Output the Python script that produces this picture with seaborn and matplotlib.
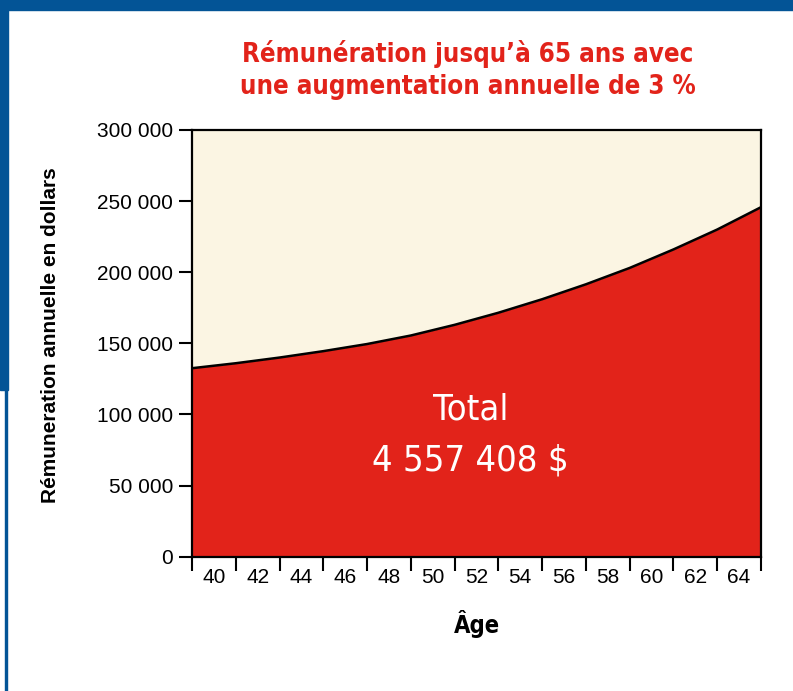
import matplotlib
matplotlib.use("Agg")
import matplotlib.pyplot as plt
from matplotlib.patches import Rectangle
import seaborn as sns

# values (boundary ages every 2 years)
ages = [40, 42, 44, 46, 48, 50, 52, 54, 56, 58, 60, 62, 64, 66]
pay = [132500, 136000, 140000, 144500, 149500, 155500, 163000,
       171500, 181000, 191500, 203000, 216000, 230000, 245700]
age_labels = ['40', '42', '44', '46', '48', '50', '52', '54', '56', '58', '60', '62', '64']
y_ticks = [0, 50000, 100000, 150000, 200000, 250000, 300000]
y_labels = ['0', '50 000', '100 000', '150 000', '200 000', '250 000', '300 000']

title = "Rémunération jusqu’à 65 ans avec\nune augmentation annuelle de 3 %"
total_text = ["Total", "4 557 408 $"]

RED = "#e2231a"
CREAM = "#fbf5e3"
BLUE = "#035496"

sns.set_style("white")
plt.rcParams['font.family'] = ['Liberation Sans', 'DejaVu Sans']
narrow = dict(family='DejaVu Sans', stretch='condensed')

fig = plt.figure(figsize=(7.93, 6.91), dpi=100)
ax = fig.add_axes([0.2421, 0.1944, 0.7175, 0.6175])
ax.set_facecolor(CREAM)

ax.fill_between(ages, pay, 0, color=RED, lw=0, zorder=1)
sns.lineplot(x=ages, y=pay, color='black', lw=1.8, ax=ax, zorder=2)

ax.set_xlim(40, 66)
ax.set_ylim(0, 300000)

ax.set_yticks(y_ticks)
ax.set_yticklabels(y_labels, fontsize=15, color='black')
ax.tick_params(axis='y', direction='out', length=9.5, width=1.5, pad=4, left=True, colors='black')

ax.set_xticks(ages)
ax.set_xticklabels([])
ax.set_xticks([a + 1 for a in ages[:-1]], minor=True)
ax.set_xticklabels(age_labels, minor=True, fontsize=15, color='black')
ax.tick_params(axis='x', which='major', direction='out', length=10, width=1.5, bottom=True, colors='black')
ax.tick_params(axis='x', which='minor', length=0, pad=8.5, bottom=True, labelcolor='black')

for s in ax.spines.values():
    s.set_visible(True)
    s.set_color('black')
    s.set_linewidth(1.6)
    s.set_zorder(3)

ax.set_ylabel("Rémuneration annuelle en dollars", fontsize=15, fontweight='bold', color='black')
ax.yaxis.set_label_coords(-0.232, 0.52)
ax.set_xlabel("Âge", fontsize=17, fontweight='bold', color='black', labelpad=16, **narrow)

ax.text(0.49, 0.345, total_text[0], transform=ax.transAxes, ha='center', va='center',
        color='white', fontsize=26, fontweight='medium', **narrow)
ax.text(0.49, 0.225, total_text[1], transform=ax.transAxes, ha='center', va='center',
        color='white', fontsize=26, fontweight='medium', **narrow)

fig.text(0.59, 0.898, title, ha='center', va='center', color=RED, fontsize=18.5,
         fontweight='bold', linespacing=1.3, **narrow)

# blue frame pieces
fig.patches.append(Rectangle((0, 1 - 10 / 691), 1, 10 / 691, transform=fig.transFigure,
                             color=BLUE, zorder=5))
fig.patches.append(Rectangle((0, 1 - 390 / 691), 8 / 793, 390 / 691, transform=fig.transFigure,
                             color=BLUE, zorder=5))
fig.patches.append(Rectangle((5 / 793, 0), 2 / 793, 1 - 390 / 691, transform=fig.transFigure,
                             color=BLUE, zorder=5))

fig.savefig("out.png", dpi=100)
